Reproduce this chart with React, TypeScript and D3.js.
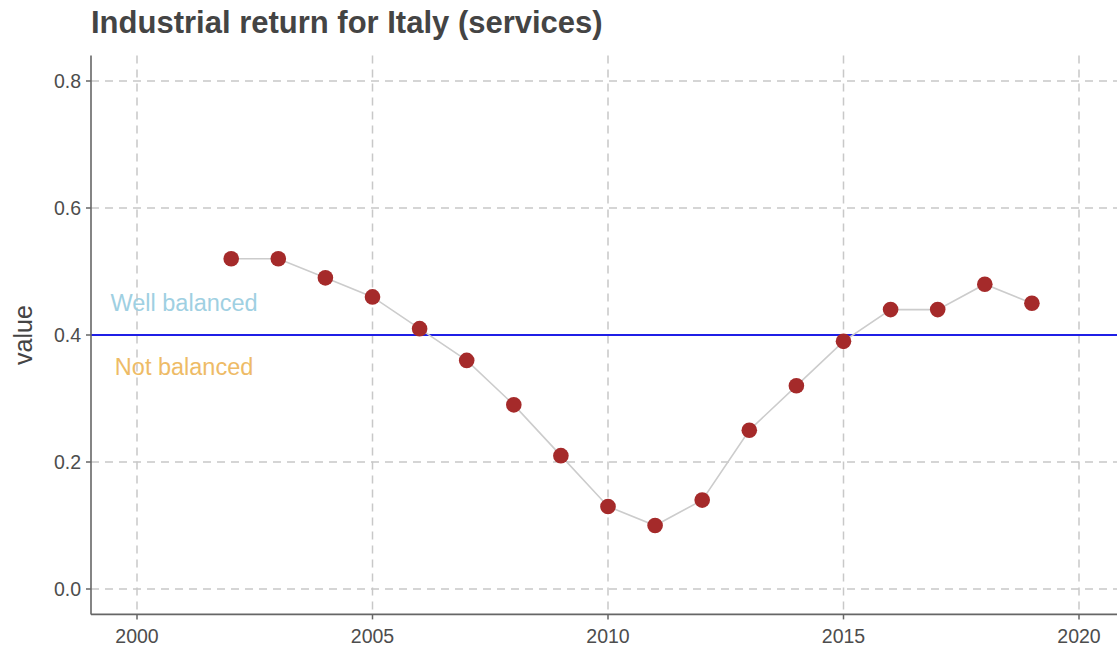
import React from "react";
import * as d3 from "d3";

const years = [2002, 2003, 2004, 2005, 2006, 2007, 2008, 2009, 2010, 2011, 2012, 2013, 2014, 2015, 2016, 2017, 2018, 2019];
const values = [0.52, 0.52, 0.49, 0.46, 0.41, 0.36, 0.29, 0.21, 0.13, 0.10, 0.14, 0.25, 0.32, 0.39, 0.44, 0.44, 0.48, 0.45];
const xTicks = [2000, 2005, 2010, 2015, 2020];
const yTicks = [0.0, 0.2, 0.4, 0.6, 0.8];
const threshold = 0.4;
const title = "Industrial return for Italy (services)";

const W = 1117, H = 652;
const FONT = "'Liberation Sans', Arial, Helvetica, sans-serif";

export default function App() {
  const left = 91, bottom = 614.4, top = 55.6;
  const x = d3.scaleLinear().domain([1999, 2021]).range([137 - 47.1, 137 + 21 * 47.1]);
  const y = d3.scaleLinear().domain([-0.04, 0.84]).range([bottom, top]);
  const line = d3.line<number>().x((_, i) => x(years[i])).y((d) => y(d));
  const right = W;
  return (
    <svg width={W} height={H} style={{ position: "fixed", left: 0, top: 0, background: "#fff" }} fontFamily={FONT}>
      <defs>
        <clipPath id="pc"><rect x={left} y={0} width={W - left} height={bottom} /></clipPath>
      </defs>
      <text x={91} y={33} fontSize={31} fontWeight="bold" fill="#444">{title}</text>
      <g clipPath="url(#pc)">
        {yTicks.map((t) => (
          <line key={"gy" + t} x1={left} x2={right} y1={y(t)} y2={y(t)} stroke="#c8c8c8" strokeWidth={1.5} strokeDasharray="8,6" />
        ))}
        {xTicks.map((t) => (
          <line key={"gx" + t} x1={x(t)} x2={x(t)} y1={top} y2={bottom} stroke="#c8c8c8" strokeWidth={1.5} strokeDasharray="8,6" />
        ))}
        <line x1={left} x2={right} y1={y(threshold)} y2={y(threshold)} stroke="#1f1fe6" strokeWidth={1.8} />
        <path d={line(values) || ""} fill="none" stroke="#cccccc" strokeWidth={1.6} />
        {values.map((v, i) => (
          <circle key={i} cx={x(years[i])} cy={y(v)} r={7.8} fill="#a52a2a" />
        ))}
        <text x={x(2001)} y={y(0.45)} dy="0.35em" textAnchor="middle" fontSize={23.5} fill="#9fd0e2">Well balanced</text>
        <text x={x(2001)} y={y(0.35)} dy="0.35em" textAnchor="middle" fontSize={23.5} fill="#eebb66">Not balanced</text>
      </g>
      <line x1={left} x2={left} y1={top} y2={bottom} stroke="#666" strokeWidth={1.6} />
      <line x1={left} x2={right} y1={bottom} y2={bottom} stroke="#666" strokeWidth={1.6} />
      {yTicks.map((t) => (
        <g key={"ty" + t}>
          <line x1={left - 5} x2={left} y1={y(t)} y2={y(t)} stroke="#666" strokeWidth={1.5} />
          <text x={left - 10} y={y(t)} dy="0.35em" textAnchor="end" fontSize={19.5} fill="#4d4d4d">{t.toFixed(1)}</text>
        </g>
      ))}
      {xTicks.map((t) => (
        <g key={"tx" + t}>
          <line x1={x(t)} x2={x(t)} y1={bottom} y2={bottom + 5} stroke="#666" strokeWidth={1.5} />
          <text x={x(t)} y={bottom + 28.5} textAnchor="middle" fontSize={19.5} fill="#4d4d4d">{t}</text>
        </g>
      ))}
      <text transform={`translate(32,${(top + bottom) / 2}) rotate(-90)`} textAnchor="middle" fontSize={25} fill="#444">value</text>
    </svg>
  );
}
